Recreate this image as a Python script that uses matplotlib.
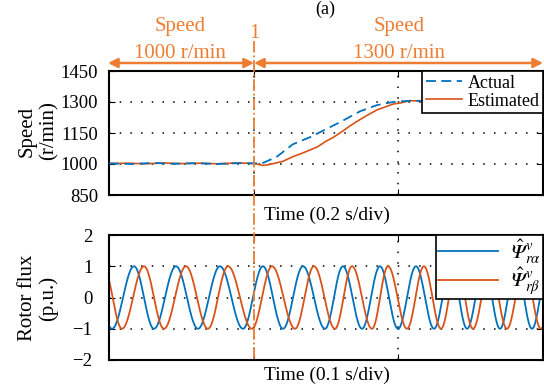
import numpy as np
import matplotlib
matplotlib.use("Agg")
import matplotlib.pyplot as plt
from matplotlib.lines import Line2D

plt.rcParams['font.family'] = ['Liberation Serif', 'DejaVu Serif']
plt.rcParams['mathtext.fontset'] = 'stix'

# ---------------- data ----------------
# Speed (top), time in s (0.2 s/div)
act_t = [0.0, 0.03, 0.06, 0.09, 0.12, 0.15, 0.18, 0.2, 0.2115, 0.232, 0.254, 0.278, 0.301,
         0.3235, 0.347, 0.3705, 0.3926, 0.416, 0.444, 0.5, 0.55, 0.6]
act_v = [1003, 1000, 1005, 1001, 1004, 1000, 1004, 1003, 1003, 1035, 1095, 1130, 1170,
         1210, 1255, 1285, 1300, 1306, 1305, 1304, 1305, 1305]
est_t = [0.0, 0.025, 0.05, 0.075, 0.1, 0.125, 0.15, 0.175, 0.2, 0.206, 0.213, 0.2226, 0.2405,
         0.254, 0.264, 0.278, 0.2876, 0.301, 0.3097, 0.3235, 0.333, 0.347, 0.3567, 0.3705,
         0.3788, 0.3926, 0.4023, 0.416, 0.45, 0.5, 0.55, 0.6]
est_v = [1002, 1004, 1001, 1005, 1002, 1004, 1001, 1005, 1003, 998, 993, 998, 1013,
         1035, 1048, 1068, 1082, 1112, 1128, 1160, 1184, 1215, 1235, 1262,
         1272, 1290, 1295, 1306, 1305, 1306, 1305, 1305]

# Rotor flux (bottom), time in ms (0.1 s/div): extremum instants
alpha_ext_t = [-12.9, 2.1, 17.3, 31.1, 46.3, 61.5, 76.7, 92.6, 106.4, 120.3, 134.1, 149.3,
               161.7, 174.9, 187.3, 199.8, 212.2, 224.7, 236.4, 247.5, 259.2, 270.3,
               281.3, 292.4, 303.5]
alpha_ext_v = [1, -1, 1, -1, 1, -1, 1, -1, 1, -1, 1, -1, 1, -1, 1, -1, 1, -1, 1, -1, 1, -1,
               1, -1, 1]
beta_ext_t = [-4.0, 9.0, 24.2, 38.0, 53.2, 68.4, 82.3, 98.8, 112.7, 128.6, 141.7, 156.2,
              168.0, 181.8, 192.9, 206.0, 217.7, 229.5, 240.5, 251.6, 263.4, 275.1,
              286.9, 298.6, 310.0]
beta_ext_v = [1, -1, 1, -1, 1, -1, 1, -1, 1, -1, 1, -1, 1, -1, 1, -1, 1, -1, 1, -1, 1, -1,
              1, -1, 1]

speed_ticks = [850, 1000, 1150, 1300, 1450]
flux_ticks = [-2, -1, 0, 1, 2]

BLUE = '#0072BD'
RED = '#D95319'
ORANGE = '#ED7D31'


def smooth_through(tk, vk, n=30):
    xs, ys = [], []
    for i in range(len(tk) - 1):
        s = np.linspace(0, 1, n, endpoint=False)
        xs.append(tk[i] + s * (tk[i + 1] - tk[i]))
        ys.append(vk[i] + (vk[i + 1] - vk[i]) * (1 - np.cos(np.pi * s)) / 2)
    xs.append([tk[-1]])
    ys.append([vk[-1]])
    return np.concatenate(xs), np.concatenate(ys)


W, H = 544, 388
fig = plt.figure(figsize=(W / 100, H / 100), dpi=100)


def fx(p):
    return p / W


def fy(p):
    return 1 - p / H


ax1 = fig.add_axes([fx(109), fy(195), (543 - 109) / W, (195 - 71) / H])
ax2 = fig.add_axes([fx(109), fy(360), (543 - 109) / W, (360 - 235) / H])

grid_style = dict(color='black', linestyle=(0, (1, 6)), linewidth=1.1)

# top
ax1.plot(act_t, act_v, color=BLUE, lw=1.3, dashes=(5.5, 3), label='Actual', zorder=3)
ax1.plot(est_t, est_v, color=RED, lw=1.2, label='Estimated', zorder=2)
ax1.set_xlim(0, 0.6)
ax1.set_ylim(850, 1450)
ax1.set_yticks(speed_ticks)
ax1.set_xticks([0.2, 0.4])
ax1.set_xticklabels([])
ax1.grid(True, **grid_style)
ax1.tick_params(axis='y', direction='in', right=True, length=4, labelsize=13.5, pad=8)
ax1.tick_params(axis='x', direction='in', top=True, length=4)
leg1 = ax1.legend(loc='upper right', bbox_to_anchor=(1.0, 1.0), borderaxespad=0,
                  fontsize=13, handlelength=2.0, handletextpad=0.3, borderpad=0.2,
                  labelspacing=0.05, fancybox=False, framealpha=1, edgecolor='black')
leg1.get_frame().set_linewidth(1.2)

# bottom
ta, va = smooth_through(alpha_ext_t, alpha_ext_v)
tb, vb = smooth_through(beta_ext_t, beta_ext_v)
ax2.plot(ta, va, color=BLUE, lw=1.3, label='$\\hat{\U0001D6F9}^{v}_{r\\alpha}$')
ax2.plot(tb, vb, color=RED, lw=1.3, label='$\\hat{\U0001D6F9}^{v}_{r\\beta}$')
ax2.set_xlim(0, 300)
ax2.set_ylim(-2, 2)
ax2.set_yticks(flux_ticks)
ax2.set_xticks([100, 200])
ax2.set_xticklabels([])
ax2.grid(True, **grid_style)
ax2.tick_params(axis='y', direction='in', right=True, length=4, labelsize=13.5, pad=12)
ax2.tick_params(axis='x', direction='in', top=True, length=4)
leg2 = ax2.legend(loc='upper right', bbox_to_anchor=(1.0, 1.0), borderaxespad=0,
                  fontsize=15, handlelength=2.9, handletextpad=0.6, borderpad=0.1,
                  labelspacing=0.0, fancybox=False, framealpha=1, edgecolor='black')
leg2.get_frame().set_linewidth(1.2)

for ax in (ax1, ax2):
    for sp in ax.spines.values():
        sp.set_linewidth(1.5)

# labels
fig.text(fx(38), fy(131), 'Speed\n(r/min)', rotation=90, ha='center', va='center',
         fontsize=15, linespacing=1.15)
fig.text(fx(38), fy(298), 'Rotor flux\n(p.u.)', rotation=90, ha='center', va='center',
         fontsize=15, linespacing=1.15)
fig.text(fx(327), fy(215), 'Time (0.2 s/div)', ha='center', va='center', fontsize=14)
fig.text(fx(327), fy(375), 'Time (0.1 s/div)', ha='center', va='center', fontsize=14)

# annotations on top
fig.text(fx(325), fy(1), '(a)', ha='center', va='top', fontsize=13)
fig.text(fx(180), fy(26), 'Speed', ha='center', va='center', fontsize=15, color=ORANGE)
fig.text(fx(180), fy(53), '1000 r/min', ha='center', va='center', fontsize=15, color=ORANGE)
fig.text(fx(399), fy(26), 'Speed', ha='center', va='center', fontsize=15, color=ORANGE)
fig.text(fx(399), fy(53), '1300 r/min', ha='center', va='center', fontsize=15, color=ORANGE)
fig.text(fx(254), fy(33), '1', ha='center', va='center', fontsize=15, color=ORANGE)

arrow_kw = dict(arrowstyle='<|-|>', color=ORANGE, lw=1.8, mutation_scale=14,
                shrinkA=0, shrinkB=0)
fig.add_artist(matplotlib.patches.FancyArrowPatch((fx(108), fy(63)), (fx(254), fy(63)),
                                                  transform=fig.transFigure, **arrow_kw))
fig.add_artist(matplotlib.patches.FancyArrowPatch((fx(254), fy(63)), (fx(543), fy(63)),
                                                  transform=fig.transFigure, **arrow_kw))

fig.add_artist(Line2D([fx(254), fx(254)], [fy(41), fy(360)], transform=fig.transFigure,
                      color=ORANGE, lw=1.3, linestyle='-.', zorder=10))

fig.savefig('out.png', dpi=100)
